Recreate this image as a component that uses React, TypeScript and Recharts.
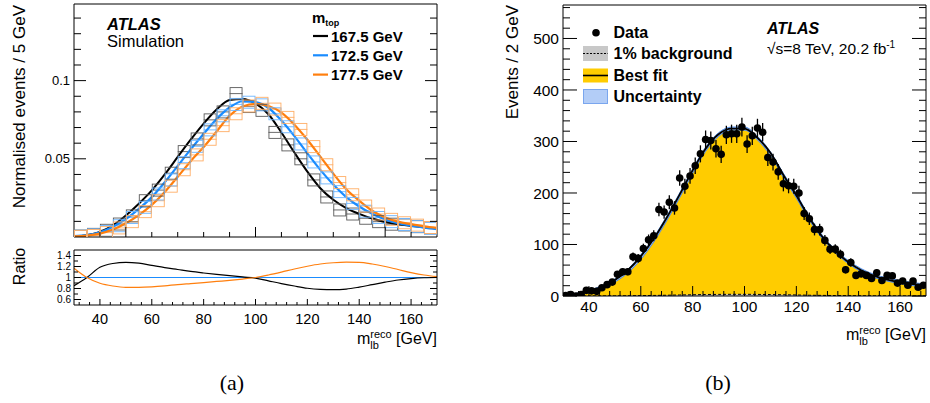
import React from 'react';
import {
  ComposedChart,
  Line,
  Area,
  Scatter,
  XAxis,
  YAxis,
  ErrorBar,
  ReferenceLine,
  Legend
} from 'recharts';

const FONT = '"Liberation Sans", Arial, Helvetica, sans-serif';

// ---- (a) simulated templates, normalised, 5 GeV bins
const binCentres = [32.5, 37.5, 42.5, 47.5, 52.5, 57.5, 62.5, 67.5, 72.5, 77.5, 82.5, 87.5, 92.5, 97.5,
  102.5, 107.5, 112.5, 117.5, 122.5, 127.5, 132.5, 137.5, 142.5, 147.5, 152.5, 157.5, 162.5, 167.5];
const halfBin = 2.5;
const sim1675 = [0.0006, 0.0017, 0.0043, 0.0083, 0.0135, 0.0232, 0.030, 0.0408, 0.0546, 0.0627, 0.0749, 0.080, 0.0917, 0.0834,
  0.081, 0.0669, 0.0589, 0.050, 0.0365, 0.0256, 0.0173, 0.0147, 0.012, 0.0098, 0.0082, 0.0077, 0.0066, 0.0058];
const sim1725 = [0.0005, 0.0014, 0.0035, 0.0072, 0.0125, 0.019, 0.0275, 0.0365, 0.0475, 0.058, 0.0685, 0.0775, 0.0848, 0.0862,
  0.0845, 0.0788, 0.0705, 0.0595, 0.048, 0.0378, 0.029, 0.0215, 0.0165, 0.0125, 0.0098, 0.008, 0.0068, 0.0056];
const sim1775 = [0.0004, 0.001, 0.0028, 0.0058, 0.0098, 0.0162, 0.0232, 0.0325, 0.043, 0.0525, 0.0625, 0.0712, 0.0788, 0.0838,
  0.0855, 0.0818, 0.0765, 0.0688, 0.0578, 0.0462, 0.0348, 0.027, 0.0198, 0.0147, 0.0113, 0.0091, 0.0076, 0.0061];

// fitted template shapes, read every 5 GeV
const curveX = [30, 35, 40, 45, 50, 55, 60, 65, 70, 75, 80, 85, 90, 95, 100, 105, 110, 115, 120, 125, 130, 135, 140, 145, 150, 155, 160, 165, 170];
const fit1675 = [0.0005, 0.0012, 0.0033, 0.0075, 0.0138, 0.0213, 0.0298, 0.040, 0.0512, 0.0622, 0.0725, 0.0815, 0.0876, 0.0883, 0.0855,
  0.0785, 0.0668, 0.054, 0.0418, 0.0312, 0.0238, 0.0185, 0.0148, 0.0118, 0.0096, 0.0082, 0.0072, 0.0063, 0.0055];
const fit1725 = [0.0005, 0.0012, 0.003, 0.0066, 0.0115, 0.018, 0.0255, 0.035, 0.0455, 0.056, 0.066, 0.0755, 0.0828, 0.0868, 0.0862,
  0.0825, 0.0745, 0.0645, 0.0535, 0.0429, 0.0335, 0.0255, 0.0195, 0.0148, 0.0112, 0.0088, 0.0072, 0.006, 0.005];
const fit1775 = [0.0004, 0.0009, 0.0022, 0.0048, 0.0088, 0.014, 0.0205, 0.0288, 0.0385, 0.0485, 0.0575, 0.0675, 0.0775, 0.0835, 0.0851,
  0.0838, 0.0795, 0.0718, 0.0622, 0.0514, 0.0405, 0.0305, 0.0232, 0.0168, 0.0125, 0.0098, 0.0082, 0.0068, 0.0058];

// ratio to the 172.5 GeV template
const ratio1675 = [0.85, 1.0, 1.185, 1.255, 1.276, 1.26, 1.22, 1.18, 1.145, 1.11, 1.082, 1.057, 1.033, 1.01, 0.99,
  0.94, 0.89, 0.845, 0.805, 0.785, 0.78, 0.79, 0.825, 0.87, 0.915, 0.955, 0.98, 0.995, 1.0];
const ratio1775 = [1.17, 1.0, 0.895, 0.845, 0.822, 0.822, 0.83, 0.848, 0.872, 0.89, 0.908, 0.928, 0.948, 0.972, 1.0,
  1.045, 1.098, 1.155, 1.205, 1.245, 1.268, 1.278, 1.275, 1.245, 1.2, 1.145, 1.09, 1.045, 1.015];

const massLabels = ['167.5 GeV', '172.5 GeV', '177.5 GeV'];
const lineColours = ['#000000', '#1a8cff', '#ff7f0e'];
const boxColours = ['#5a5a5a', '#6cb5ff', '#ffae66'];

// ---- (b) data, 2 GeV bins
const dataX = [31, 33, 35, 37, 39, 41, 43, 45, 47, 49, 51, 53, 55, 57, 59, 61, 63, 65, 67, 69, 71, 73, 75, 77, 79, 81, 83, 85, 87, 89,
  91, 93, 95, 97, 99, 101, 103, 105, 107, 109, 111, 113, 115, 117, 119, 121, 123, 125, 127, 129, 131, 133, 135, 137, 139,
  141, 143, 145, 147, 149, 151, 153, 155, 157, 159, 161, 163, 165, 167, 169];
const dataY = [1, 3, 0, 3, 11, 10, 9, 16, 22, 27, 42, 47, 47, 76, 73, 92, 109, 117, 168, 163,
  182, 171, 229, 213, 233, 253, 276, 304, 302, 286, 275, 313, 315, 315, 328, 295, 311, 326, 318, 269,
  260, 241, 218, 214, 213, 200, 160, 150, 129, 129, 108, 91, 91, 81, 51, 65, 40, 43, 40, 34,
  45, 30, 40, 39, 25, 29, 21, 29, 17, 21];
const dataErr = [1, 1.7, 1, 1.7, 3.3, 3.2, 3, 4, 4.7, 5.2, 6.5, 6.9, 6.9, 8.7, 8.5, 9.6, 10.4, 10.8, 13, 12.8,
  13.5, 13.1, 15.1, 14.6, 15.3, 15.9, 16.6, 17.4, 17.4, 16.9, 16.6, 17.7, 17.7, 17.7, 18.1, 17.2, 17.6, 18.1, 17.8, 16.4,
  16.1, 15.5, 14.8, 14.6, 14.6, 14.1, 12.6, 12.2, 11.4, 11.4, 10.4, 9.5, 9.5, 9, 7.1, 8.1, 6.3, 6.6, 6.3, 5.8,
  6.7, 5.5, 6.3, 6.2, 5, 5.4, 4.6, 5.4, 4.1, 4.6];

const fitX = [30, 35, 40, 45, 50, 55, 60, 65, 70, 75, 80, 85, 90, 95, 100, 105, 110, 115, 120, 125, 130, 135, 140, 145, 150, 155, 160, 165, 170];
const bestFit = [1, 4, 9, 18, 31, 50, 77, 111, 152, 197, 244, 286, 314, 325, 325, 307, 278, 235, 195, 152, 115, 87, 66, 50, 39, 32, 27, 23, 20];
const fitLow = [0, 2, 6, 14, 27, 45, 71, 105, 146, 191, 238, 281, 310, 322, 322, 303, 273, 230, 190, 147, 111, 84, 63, 47, 36, 29, 24, 20, 17];
const fitHigh = [2, 5, 11, 20, 33, 52, 80, 114, 155, 200, 247, 289, 317, 328, 328, 310, 280, 238, 198, 155, 118, 90, 69, 53, 42, 35, 30, 26, 23];
const background = [0, 0, 0.1, 0.2, 0.3, 0.5, 0.8, 1.1, 1.5, 2, 2.4, 2.9, 3.1, 3.3, 3.3, 3.1, 2.8, 2.4, 2, 1.5, 1.2, 0.9, 0.7, 0.5, 0.4, 0.3, 0.3, 0.2, 0.2];

// ---- ticks
const aYTicks = [0.01, 0.02, 0.03, 0.04, 0.05, 0.06, 0.07, 0.08, 0.09, 0.1, 0.11, 0.12, 0.13, 0.14];
const aYMajor = [0.05, 0.1];
const aXTicks = [40, 50, 60, 70, 80, 90, 100, 110, 120, 130, 140, 150, 160];
const aXMajor = [50, 100, 150];
const rYTicks = [0.6, 0.7, 0.8, 0.9, 1, 1.1, 1.2, 1.3, 1.4];
const rYMajor = [0.6, 0.8, 1, 1.2, 1.4];
const xTicks = [32, 36, 40, 44, 48, 52, 56, 60, 64, 68, 72, 76, 80, 84, 88, 92, 96, 100, 104, 108, 112, 116, 120, 124, 128,
  132, 136, 140, 144, 148, 152, 156, 160, 164, 168];
const xMajor = [40, 60, 80, 100, 120, 140, 160];
const bYTicks = [0, 20, 40, 60, 80, 100, 120, 140, 160, 180, 200, 220, 240, 260, 280, 300, 320, 340, 360, 380, 400,
  420, 440, 460, 480, 500, 520, 540, 560];
const bYMajor = [0, 100, 200, 300, 400, 500];

const simRows = [sim1675, sim1725, sim1775].map(vals =>
  binCentres.map((x, i) => ({ x, y: vals[i], ex: halfBin }))
);
const curveRows = curveX.map((x, i) => ({
  x,
  m1675: fit1675[i],
  m1725: fit1725[i],
  m1775: fit1775[i],
  r1675: ratio1675[i],
  r1775: ratio1775[i]
}));
const dataRows = dataX.map((x, i) => ({ x, y: dataY[i], err: dataErr[i] }));
const fitRows = fitX.map((x, i) => ({ x, fit: bestFit[i], band: [fitLow[i], fitHigh[i]], bkg: background[i] }));

type Side = 'left' | 'right' | 'top' | 'bottom';

// ROOT style ticks: drawn inward from the frame, labels only on majors
const ticker = (side: Side, majors: number[], majorLen: number, minorLen: number, label?: { size: number; off: number }) =>
  (p: any) => {
    const v = p.payload.value as number;
    const isMajor = majors.includes(v);
    const len = isMajor ? majorLen : minorLen;
    const { x, y } = p;
    const x2 = side === 'left' ? x + len : side === 'right' ? x - len : x;
    const y2 = side === 'bottom' ? y - len : side === 'top' ? y + len : y;
    let text = null;
    if (label && isMajor) {
      text = side === 'left' ? (
        <text x={x - label.off} y={y} dy="0.36em" textAnchor="end" fontSize={label.size} fontFamily={FONT} fill="#000">
          {String(v)}
        </text>
      ) : (
        <text x={x} y={y + label.off} dy="0.36em" textAnchor="middle" fontSize={label.size} fontFamily={FONT} fill="#000">
          {String(v)}
        </text>
      );
    }
    return (
      <g>
        <line x1={x} y1={y} x2={x2} y2={y2} stroke="#000" strokeWidth={1} />
        {text}
      </g>
    );
  };

const AX = { stroke: '#000', strokeWidth: 1 };

const openSquare = (colour: string) => (p: any) => (
  <rect x={p.cx - 6} y={p.cy - 6} width={12} height={12} fill="none" stroke={colour} strokeWidth={0.9} />
);

const dataDot = (p: any) => <circle cx={p.cx} cy={p.cy} r={3.8} fill="#000" />;

const MlbTitle = ({ x, y }: { x: number; y: number }) => (
  <text x={x} y={y} textAnchor="end" fontSize={16} fontFamily={FONT} fill="#000">
    m<tspan fontSize={11} dy={5}>lb</tspan>
    <tspan fontSize={11} dx={-8.6} dy={-11}>reco</tspan>
    <tspan dy={6}> [GeV]</tspan>
  </text>
);

const MassLegend = () => (
  <svg width={135} height={80} fontFamily={FONT}>
    <text x={7} y={15} fontSize={15} fontWeight="bold">
      m<tspan fontSize={9} dy={3}>top</tspan>
    </text>
    {massLabels.map((m, i) => (
      <g key={m}>
        <line x1={8} x2={23} y1={28 + i * 19.3} y2={28 + i * 19.3} stroke={lineColours[i]} strokeWidth={2.2} />
        <text x={26} y={33.5 + i * 19.3} fontSize={15} fontWeight="bold">{m}</text>
      </g>
    ))}
  </svg>
);

const FitLegend = () => (
  <svg width={200} height={95} fontFamily={FONT} fontSize={16} fontWeight="bold">
    <circle cx={16} cy={12.7} r={3.8} fill="#000" />
    <text x={33.5} y={18.3}>Data</text>
    <rect x={3} y={26} width={25} height={15} fill="#c8c8c8" />
    <line x1={3} x2={28} y1={33.5} y2={33.5} stroke="#000" strokeWidth={1} strokeDasharray="2 1.5" />
    <text x={33.5} y={39}>1% background</text>
    <rect x={3} y={48.5} width={25} height={14} fill="#ffcc00" />
    <line x1={3} x2={28} y1={55.5} y2={55.5} stroke="#000" strokeWidth={1.6} />
    <text x={33.5} y={61}>Best fit</text>
    <rect x={3.5} y={69.5} width={24} height={14} fill="#b3cdf7" stroke="#7aa6ee" strokeWidth={1} />
    <text x={33.5} y={82}>Uncertainty</text>
  </svg>
);

const App: React.FC = () => {
  return (
    <div style={{ position: 'absolute', left: 0, top: 0, width: 930, height: 403, background: '#fff', fontFamily: FONT }}>
      {/* (a) main panel */}
      <div style={{ position: 'absolute', left: 0, top: 0 }}>
        <ComposedChart width={445} height={245} data={curveRows} margin={{ top: 3, right: 7, bottom: 7, left: 14 }}>
          <XAxis type="number" dataKey="x" domain={[30, 170]} allowDataOverflow ticks={aXTicks} interval={0}
            height={1} tickSize={0} tickMargin={0} tickLine={false} axisLine={AX} tick={ticker('bottom', aXMajor, 10, 5)} />
          <XAxis xAxisId="top" orientation="top" type="number" domain={[30, 170]} allowDataOverflow ticks={aXTicks} interval={0}
            height={1} tickSize={0} tickMargin={0} tickLine={false} axisLine={AX} tick={ticker('top', aXMajor, 10, 5)} />
          <YAxis type="number" domain={[0, 0.149]} allowDataOverflow ticks={aYTicks} interval={0} width={60}
            tickSize={0} tickMargin={0} tickLine={false} axisLine={AX} tick={ticker('left', aYMajor, 12, 7, { size: 13, off: 4 })} />
          <YAxis yAxisId="right" orientation="right" type="number" domain={[0, 0.149]} allowDataOverflow ticks={aYTicks} interval={0}
            width={1} tickSize={0} tickMargin={0} tickLine={false} axisLine={AX} tick={ticker('right', aYMajor, 12, 7)} />
          {simRows.map((rows, i) => (
            <Scatter key={massLabels[i]} data={rows} dataKey="y" shape={openSquare(boxColours[i])} isAnimationActive={false}>
              <ErrorBar dataKey="ex" direction="x" width={0} stroke={boxColours[i]} strokeWidth={0.9} />
            </Scatter>
          ))}
          <Line type="monotone" dataKey="m1675" stroke={lineColours[0]} strokeWidth={2} dot={false} isAnimationActive={false} />
          <Line type="monotone" dataKey="m1725" stroke={lineColours[1]} strokeWidth={2.2} dot={false} isAnimationActive={false} />
          <Line type="monotone" dataKey="m1775" stroke={lineColours[2]} strokeWidth={2.2} dot={false} isAnimationActive={false} />
          <Legend layout="vertical" align="center" verticalAlign="middle" content={() => <MassLegend />}
            wrapperStyle={{ left: 305, top: 8, width: 135, height: 80 }} />
        </ComposedChart>
      </div>

      {/* (a) ratio panel */}
      <div style={{ position: 'absolute', left: 0, top: 245 }}>
        <ComposedChart width={445} height={105} data={curveRows} margin={{ top: 4, right: 7, bottom: 44, left: 14 }}>
          <XAxis type="number" dataKey="x" domain={[30, 170]} allowDataOverflow ticks={xTicks} interval={0}
            height={1} tickSize={0} tickMargin={0} tickLine={false} axisLine={AX} tick={ticker('bottom', xMajor, 6, 3, { size: 14.5, off: 14 })} />
          <XAxis xAxisId="top" orientation="top" type="number" domain={[30, 170]} allowDataOverflow ticks={xTicks} interval={0}
            height={1} tickSize={0} tickMargin={0} tickLine={false} axisLine={AX} tick={ticker('top', xMajor, 6, 3)} />
          <YAxis type="number" domain={[0.5, 1.5]} allowDataOverflow ticks={rYTicks} interval={0} width={60}
            tickSize={0} tickMargin={0} tickLine={false} axisLine={AX} tick={ticker('left', rYMajor, 7, 4, { size: 10, off: 3 })} />
          <YAxis yAxisId="right" orientation="right" type="number" domain={[0.5, 1.5]} allowDataOverflow ticks={rYTicks} interval={0}
            width={1} tickSize={0} tickMargin={0} tickLine={false} axisLine={AX} tick={ticker('right', rYMajor, 7, 4)} />
          <ReferenceLine y={1} stroke={lineColours[1]} strokeWidth={1.2} />
          <Line type="monotone" dataKey="r1675" stroke={lineColours[0]} strokeWidth={1.2} dot={false} isAnimationActive={false} />
          <Line type="monotone" dataKey="r1775" stroke={lineColours[2]} strokeWidth={1.2} dot={false} isAnimationActive={false} />
        </ComposedChart>
      </div>

      {/* (b) */}
      <div style={{ position: 'absolute', left: 490, top: 0 }}>
        <ComposedChart width={440} height={320} data={fitRows} margin={{ top: 4, right: 3, bottom: 23, left: 13 }}>
          <XAxis type="number" dataKey="x" domain={[30, 170]} allowDataOverflow ticks={xTicks} interval={0}
            height={1} tickSize={0} tickMargin={0} tickLine={false} axisLine={AX} tick={ticker('bottom', xMajor, 10, 5, { size: 15.5, off: 10 })} />
          <XAxis xAxisId="top" orientation="top" type="number" domain={[30, 170]} allowDataOverflow ticks={xTicks} interval={0}
            height={1} tickSize={0} tickMargin={0} tickLine={false} axisLine={AX} tick={ticker('top', xMajor, 10, 5)} />
          <YAxis type="number" domain={[0, 565]} allowDataOverflow ticks={bYTicks} interval={0} width={60}
            tickSize={0} tickMargin={0} tickLine={false} axisLine={AX} tick={ticker('left', bYMajor, 14, 7, { size: 15.5, off: 4 })} />
          <YAxis yAxisId="right" orientation="right" type="number" domain={[0, 565]} allowDataOverflow ticks={bYTicks} interval={0}
            width={1} tickSize={0} tickMargin={0} tickLine={false} axisLine={AX} tick={ticker('right', bYMajor, 14, 7)} />
          <Area type="monotone" dataKey="fit" fill="#ffcc00" fillOpacity={1} stroke="none" isAnimationActive={false} />
          <Area type="monotone" dataKey="band" fill="#b3cdf7" fillOpacity={1} stroke="#4a8ae8" strokeWidth={1} isAnimationActive={false} />
          <Area type="monotone" dataKey="bkg" fill="#c8c8c8" fillOpacity={1} stroke="none" isAnimationActive={false} />
          <Line type="monotone" dataKey="bkg" stroke="#000" strokeWidth={1} strokeDasharray="3 2" dot={false} isAnimationActive={false} />
          <Line type="monotone" dataKey="fit" stroke="#000" strokeWidth={1.8} dot={false} isAnimationActive={false} />
          <Scatter data={dataRows} dataKey="y" shape={dataDot} isAnimationActive={false}>
            <ErrorBar dataKey="err" direction="y" width={0} stroke="#000" strokeWidth={1.3} />
          </Scatter>
          <Legend layout="vertical" align="center" verticalAlign="middle" content={() => <FitLegend />}
            wrapperStyle={{ left: 90, top: 20, width: 200, height: 95 }} />
        </ComposedChart>
      </div>

      {/* labels */}
      <svg width={930} height={403} style={{ position: 'absolute', left: 0, top: 0, pointerEvents: 'none' }} fontFamily={FONT} fill="#000">
        <text x={107} y={30} fontSize={16.5} fontWeight="bold" fontStyle="italic">ATLAS</text>
        <text x={107} y={46.5} fontSize={16.5}>Simulation</text>
        <text transform="rotate(-90)" x={-5} y={25} textAnchor="end" fontSize={17}>Normalised events / 5 GeV</text>
        <text transform="rotate(-90)" x={-266.5} y={25} textAnchor="middle" fontSize={16}>Ratio</text>
        <MlbTitle x={437} y={344} />
        <text x={232} y={390} textAnchor="middle" fontSize={22} fontFamily='"Liberation Serif", serif'>(a)</text>

        <text x={767} y={33.5} fontSize={16} fontWeight="bold" fontStyle="italic">ATLAS</text>
        <text x={767} y={53.5} fontSize={15.5}>
          √s=8 TeV, 20.2 fb<tspan fontSize={10} dy={-6}>-1</tspan>
        </text>
        <text transform="rotate(-90)" x={-5} y={518} textAnchor="end" fontSize={17}>Events / 2 GeV</text>
        <MlbTitle x={926} y={340} />
        <text x={718} y={390} textAnchor="middle" fontSize={22} fontFamily='"Liberation Serif", serif'>(b)</text>
      </svg>
    </div>
  );
};

export default App;
